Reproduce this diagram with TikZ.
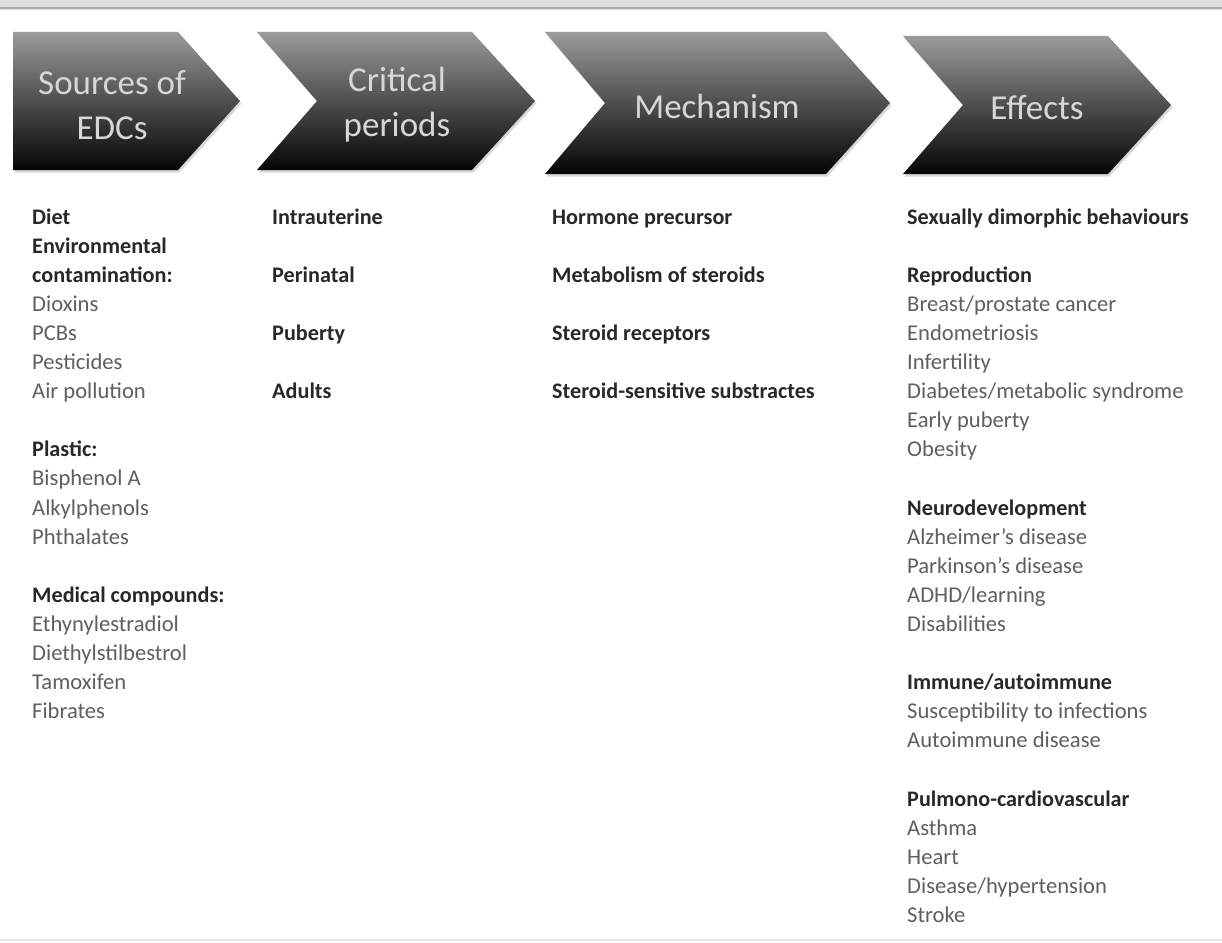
\documentclass[tikz,border=0pt]{standalone}
\usepackage{fontspec}
\setmainfont{Carlito}
\usetikzlibrary{shadows}
\definecolor{chevtop}{RGB}{155,155,155}
\definecolor{chevmid}{RGB}{78,78,78}
\definecolor{chevbot}{RGB}{5,5,5}
\definecolor{headtxt}{RGB}{215,215,215}
\definecolor{boldtxt}{RGB}{40,40,40}
\definecolor{plaintxt}{RGB}{95,95,95}
\tikzset{
  chev/.style={top color=chevtop, bottom color=chevbot, middle color=chevmid,
    drop shadow={shadow xshift=1.5pt, shadow yshift=-2.5pt, opacity=.3}},
  chevtext/.style={text=headtxt, font=\fontsize{35}{45}\selectfont, align=center, inner sep=0pt},
  item/.style={anchor=base west, inner sep=0pt, text=plaintxt, font=\fontsize{22.6}{29}\selectfont},
  hd/.style={item, text=boldtxt, font=\fontsize{22.2}{29}\selectfont\bfseries},
}
\begin{document}
\begin{tikzpicture}[x=1pt,y=-1pt]
\useasboundingbox (0,0) rectangle (1222,942);
\fill[white] (0,0) rectangle (1222,942);
% frame lines
\fill[gray!25] (0,0) rectangle (1222,10);
\draw[gray!65, line width=2.5pt] (0,8) -- (1222,8);
\draw[gray!20, line width=1.5pt] (0,940) -- (1222,940);
% chevrons
\path[chev] (13,32) -- (178,32) -- (240,101) -- (178,170) -- (13,170) -- cycle;
\path[chev] (257,32) -- (472,32) -- (535,101) -- (472,170) -- (257,170) -- (317,101) -- cycle;
\path[chev] (545,32) -- (826,32) -- (890,103) -- (826,174) -- (545,174) -- (605,103) -- cycle;
\path[chev] (903,36) -- (1108,36) -- (1171,105) -- (1108,174) -- (903,174) -- (963,105) -- cycle;
\node[chevtext] (h1) at (112,105) {Sources of\\EDCs};
\node[chevtext] (h2) at (397,105) {Critical\\periods};
\node[chevtext] (h3) at (717,106) {Mechanism};
\node[chevtext] (h4) at (1037,108) {Effects};
% column 1
\foreach \i/\t/\s in {0/Diet/hd, 1/Environmental/hd, 2/contamination:/hd, 3/Dioxins/item, 4/PCBs/item, 5/Pesticides/item, 6/Air pollution/item,
  8/Plastic:/hd, 9/Bisphenol A/item, 10/Alkylphenols/item, 11/Phthalates/item,
  13/Medical compounds:/hd, 14/Ethynylestradiol/item, 15/Diethylstilbestrol/item, 16/Tamoxifen/item, 17/Fibrates/item}
  \node[\s] (a\i) at (32,224+\i*29.1) {\t};
% column 2
\foreach \i/\t in {0/Intrauterine, 2/Perinatal, 4/Puberty, 6/Adults}
  \node[hd] (b\i) at (272,224+\i*29.1) {\t};
% column 3
\foreach \i/\t in {0/Hormone precursor, 2/Metabolism of steroids, 4/Steroid receptors, 6/Steroid-sensitive substractes}
  \node[hd] (c\i) at (552,224+\i*29.1) {\t};
% column 4
\foreach \i/\t/\s in {0/Sexually dimorphic behaviours/hd,
  2/Reproduction/hd, 3/{Breast/prostate cancer}/item, 4/Endometriosis/item, 5/Infertility/item, 6/{Diabetes/metabolic syndrome}/item, 7/Early puberty/item, 8/Obesity/item,
  10/Neurodevelopment/hd, 11/Alzheimer's disease/item, 12/Parkinson's disease/item, 13/{ADHD/learning}/item, 14/Disabilities/item,
  16/{Immune/autoimmune}/hd, 17/Susceptibility to infections/item, 18/Autoimmune disease/item,
  20/Pulmono-cardiovascular/hd, 21/Asthma/item, 22/Heart/item, 23/{Disease/hypertension}/item, 24/Stroke/item}
  \node[\s] (d\i) at (907,224+\i*29.1) {\t};
\end{tikzpicture}
\end{document}
